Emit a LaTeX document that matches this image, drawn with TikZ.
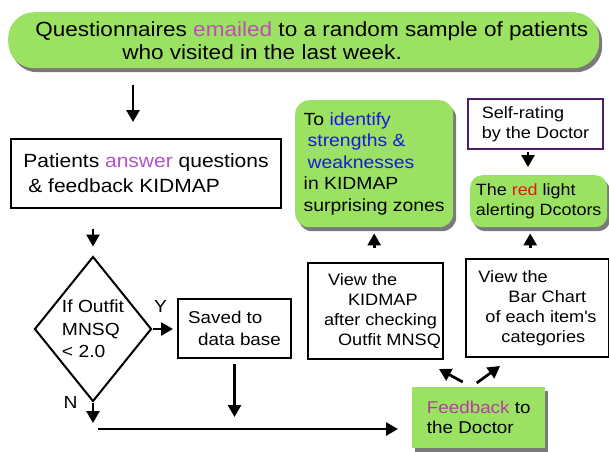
\documentclass[tikz,border=0pt]{standalone}
\usepackage{fontspec}
\setmainfont{Liberation Sans}[FakeStretch=1.1]
\usetikzlibrary{arrows.meta,shapes.geometric,shadows,calc}

\definecolor{boxgreen}{RGB}{156,226,98}
\definecolor{pinktext}{RGB}{192,76,186}
\definecolor{violettext}{RGB}{180,82,200}
\definecolor{fbpink}{RGB}{176,64,158}
\definecolor{bluetext}{RGB}{24,24,220}
\definecolor{redtext}{RGB}{235,20,20}
\definecolor{rateframe}{RGB}{80,28,110}

\tikzset{
  plainbox/.style={draw, line width=2pt, fill=white, align=left, inner sep=0pt, anchor=north west},
  greenbox/.style={fill=boxgreen, align=left, inner sep=0pt, anchor=north west,
    drop shadow={shadow xshift=3pt, shadow yshift=-4pt, fill=black!75, opacity=0.7}},
  decision/.style={draw, diamond, line width=2pt, aspect=0.8, inner sep=0pt, align=left},
  arr/.style={line width=2.7pt, -{Triangle[width=13pt,length=12pt]}},
  lbl/.style={inner sep=0pt}
}

\begin{document}
\begin{tikzpicture}[x=1pt, y=-1pt]
\useasboundingbox (0,0) rectangle (609,451);

% boxes
\node[greenbox, rounded corners=26pt, minimum width=591pt, minimum height=56pt,
  font=\fontsize{20.5}{23}\selectfont] (quest) at (8,12)
  {\hspace*{16pt}Questionnaires \textcolor{pinktext}{emailed} to a random sample of patients\\
   \hspace*{103pt}who visited in the last week.};
\node[plainbox, minimum width=270pt, minimum height=69pt,
  font=\fontsize{19.1}{25}\selectfont] (pat) at (10,138)
  {Patients \textcolor{violettext}{answer} questions\\\hspace*{5pt}\& feedback KIDMAP};
\node[decision, minimum width=117pt, minimum height=145pt,
  font=\fontsize{17.5}{22.5}\selectfont] (dec) at (93,329) {If Outfit\\MNSQ\\< 2.0};
\node[plainbox, minimum width=113pt, minimum height=59pt,
  font=\fontsize{17.1}{22}\selectfont] (sv) at (177,298) {Saved to\\\hspace*{10pt}data base};
\node[greenbox, minimum width=133pt, minimum height=61pt,
  font=\fontsize{17.1}{20}\selectfont] (fb) at (412,387)
  {\textcolor{fbpink}{Feedback} to\\the Doctor};
\node[plainbox, minimum width=135pt, minimum height=96pt,
  font=\fontsize{16.5}{20}\selectfont] (vk) at (307,262)
  {\hspace*{18pt}View the\\\hspace*{38pt}KIDMAP\\\hspace*{14pt}after checking\\\hspace*{28pt}Outfit MNSQ};
\node[plainbox, minimum width=143pt, minimum height=98pt,
  font=\fontsize{16.5}{20}\selectfont] (vb) at (465,258)
  {View the\\\hspace*{30pt}Bar Chart\\\hspace*{7pt}of each item\textquotesingle s\hspace*{15pt}\\\hspace*{23pt}categories};
\node[greenbox, rounded corners=14pt, minimum width=158pt, minimum height=127pt,
  font=\fontsize{17.6}{21.5}\selectfont] (id) at (295,100)
  {To \textcolor{bluetext}{identify}\\\hspace*{4pt}\textcolor{bluetext}{strengths \&}\\
   \hspace*{4pt}\textcolor{bluetext}{weaknesses}\\in KIDMAP\\surprising zones};
\node[plainbox, draw=rateframe, minimum width=135pt, minimum height=50pt,
  font=\fontsize{16.4}{20}\selectfont] (sr) at (467,98) {Self-rating\\by the Doctor};
\node[greenbox, rounded corners=12pt, minimum width=137pt, minimum height=52pt,
  font=\fontsize{16.3}{20}\selectfont] (rl) at (470,175)
  {The \textcolor{redtext}{red} light\\alerting Dcotors};

\coordinate (base) at (98,429);

% arrows
\draw[arr, shorten <=17pt, shorten >=16pt] ($(quest.south -| pat.north)+(-13,0)$) -- ($(pat.north)+(-13,0)$);
\draw[arr, shorten <=20pt, shorten >=9pt] (pat.south -| dec.north) -- (dec.north);
\draw[arr, shorten >=4pt] (dec.east) -- node[lbl, pos=0.33, above=15pt, font=\fontsize{17.5}{20}\selectfont] (ylab) {Y} (sv.west |- dec.east);
\draw[arr, shorten >=6pt] (dec.south) -- node[lbl, at start, left=14pt, font=\fontsize{17.5}{20}\selectfont] (nlab) {N} (dec.south |- base);
\draw[arr, shorten <=5pt, shorten >=12pt] (sv.south) -- (sv.south |- base);
\draw[arr, shorten >=14pt] (base) -- (base -| fb.west);
\draw[arr] ($(fb.north)+(-16,-5)$) -- ($(vk.south east)+(-5,9)$);
\draw[arr] ($(fb.north)+(-2,-4)$) -- ($(vb.south west)+(35,8)$);
\draw[arr, shorten <=14pt, shorten >=6pt] (vk.north -| id.south) -- (id.south);
\draw[arr, shorten <=10pt, shorten >=6pt] ($(rl.south |- vb.north)+(-8.5,0)$) -- ($(rl.south)+(-8.5,0)$);
\draw[arr, shorten <=2pt, shorten >=8pt] ($(sr.south)+(-7.5,0)$) -- ($(sr.south |- rl.north)+(-7.5,0)$);
\end{tikzpicture}
\end{document}
